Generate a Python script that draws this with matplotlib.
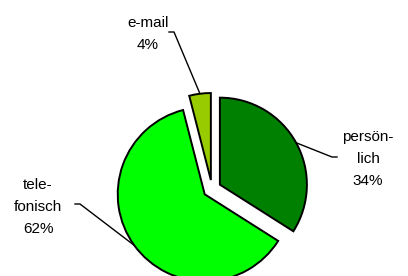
import matplotlib.pyplot as plt
import numpy as np

labels = ['persön-\nlich', 'tele-\nfonisch', 'e-mail']
shares = [34, 62, 4]
colors = ['#008000', '#00FF00', '#99CC00']

plt.rcParams['font.family'] = ['Liberation Sans', 'DejaVu Sans']

fig = plt.figure(figsize=(4.08, 2.76), dpi=100)
ax = fig.add_axes([0, 0, 1, 1])

wedges, _ = ax.pie(shares, colors=colors, startangle=90, counterclock=False,
                   explode=[9, 9, 9], radius=87, center=(212, 87), frame=True,
                   wedgeprops=dict(edgecolor='black', linewidth=1.4))
ax.set_xlim(0, 408)
ax.set_ylim(0, 276)
ax.axis('off')

# label text position and the knee of its leader line
text_pos = [(368, 117), (38, 69), (148, 242)]
knees = [((337, 119), (332, 119)), ((75, 72), (80, 72)), ((169, 244), (174, 244))]

for w, lab, s, tp, (k0, k1) in zip(wedges, labels, shares, text_pos, knees):
    ang = np.deg2rad((w.theta1 + w.theta2) / 2)
    px = w.center[0] + w.r * np.cos(ang)
    py = w.center[1] + w.r * np.sin(ang)
    ax.plot([k0[0], k1[0], px], [k0[1], k1[1], py], color='black', lw=1.0, zorder=0.5)
    ax.text(tp[0], tp[1], f'{lab}\n{s}%', ha='center', va='center',
            fontsize=11, linespacing=1.75)

fig.savefig('out.png', dpi=100)
